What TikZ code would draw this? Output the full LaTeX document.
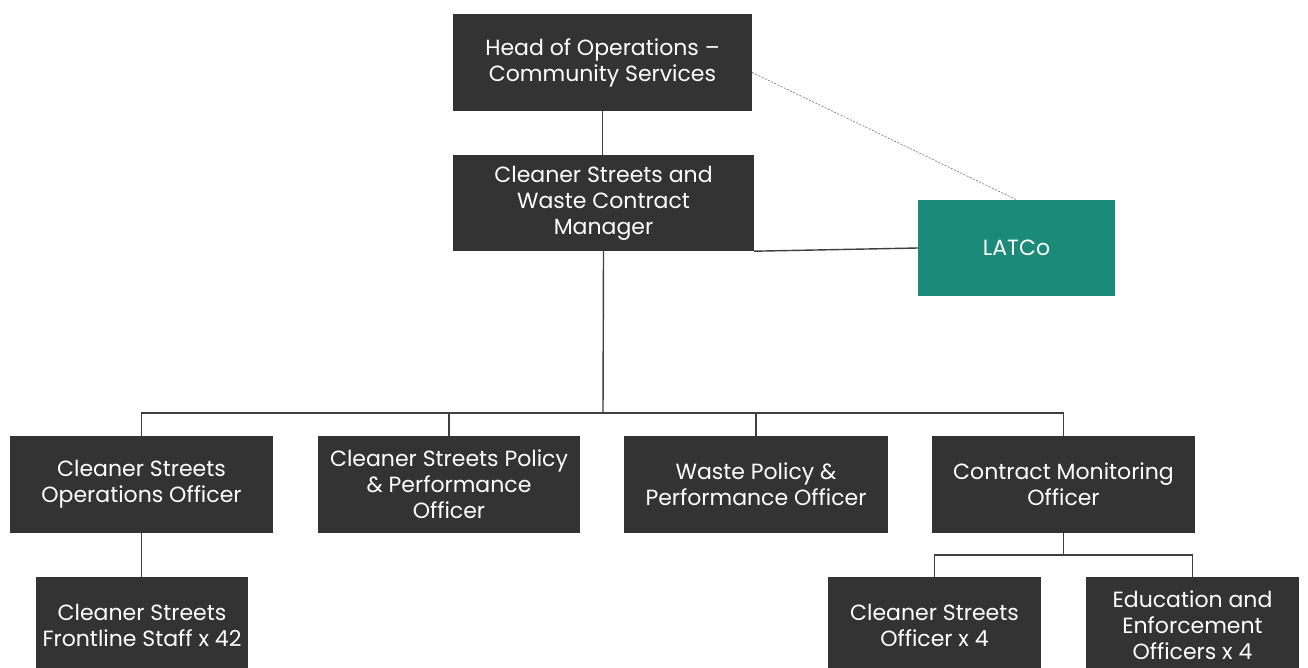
\documentclass[tikz,border=0pt]{standalone}
\usepackage{fontspec}
\setmainfont{Poppins}
\definecolor{boxgray}{HTML}{333333}
\definecolor{teal}{HTML}{1B8A78}
\definecolor{linegray}{HTML}{3F3F3F}
\begin{document}
\begin{tikzpicture}[x=1pt,y=-1pt,
  box/.style={rectangle, fill=boxgray, text=white, align=center, inner sep=0pt,
    minimum height=96pt, font=\fontsize{22}{26}\selectfont},
  conn/.style={draw=linegray, line width=1.4pt},
  dotline/.style={draw=gray, line width=0.7pt, dash pattern=on 2pt off 1.5pt}]
\useasboundingbox (0,0) rectangle (1308,668);
\node[box, minimum width=299pt, minimum height=97pt] (head) at (602.5,62.5) {Head of Operations --\\Community Services};
\node[box, minimum width=301pt] (mgr) at (603.5,203) {Cleaner Streets and\\Waste Contract\\Manager};
\node[box, fill=teal, minimum width=197pt] (latco) at (1016.5,248) {LATCo};
\node[box, minimum width=263pt, minimum height=97pt] (ops) at (141.5,484.5) {Cleaner Streets\\Operations Officer};
\node[box, minimum width=262pt, minimum height=97pt] (policy) at (449,484.5) {Cleaner Streets Policy\\\& Performance\\Officer};
\node[box, minimum width=264pt, minimum height=97pt] (waste) at (756,484.5) {Waste Policy \&\\Performance Officer};
\node[box, minimum width=263pt, minimum height=97pt] (contract) at (1063.5,484.5) {Contract Monitoring\\Officer};
\node[box, minimum width=212pt] (front) at (142,625) {Cleaner Streets\\Frontline Staff x 42};
\node[box, minimum width=213pt] (cso) at (934.5,625) {Cleaner Streets\\Officer x 4};
\node[box, minimum width=213pt] (edu) at (1192.5,625) {Education and\\Enforcement\\Officers x 4};
\coordinate (bus) at (603,413);
\coordinate (sub) at (1063.5,555);
\draw[conn] (head.south) -- (head.south |- mgr.north);
\draw[dotline] ([yshift=-10pt]head.east) -- (latco.north);
\draw[conn] (mgr.south east) -- (latco.west);
\draw[conn] (mgr.south) -- (bus);
\draw[conn] (ops.north) |- (bus) -| (contract.north);
\draw[conn] (policy.north) -- (policy.north |- bus);
\draw[conn] (waste.north) -- (waste.north |- bus);
\draw[conn] (ops.south) -- (ops.south |- front.north);
\draw[conn] (contract.south) -- (sub);
\draw[conn] (cso.north) |- (sub) -| (edu.north);
\end{tikzpicture}
\end{document}
